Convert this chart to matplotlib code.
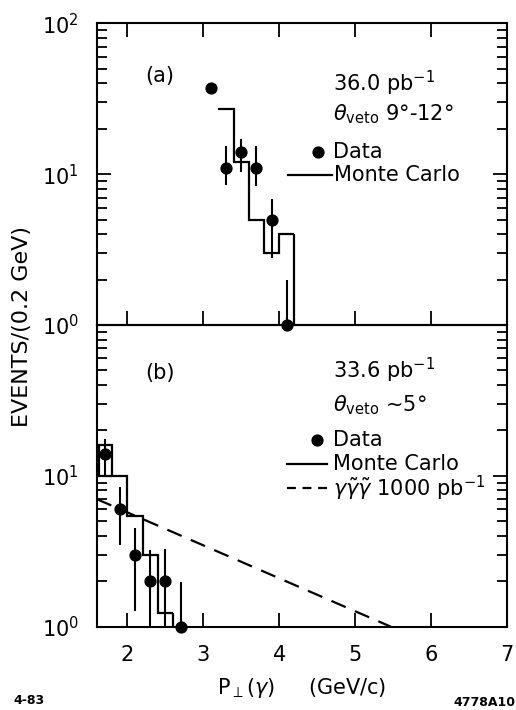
import matplotlib
matplotlib.use("Agg")
import matplotlib.pyplot as plt
from matplotlib.ticker import LogLocator, NullFormatter

plt.rcParams["font.family"] = ["DejaVu Sans"]
plt.rcParams["mathtext.fontset"] = "dejavusans"

# (a) theta_veto 9-12 deg, 36.0 pb-1
a_pt = [3.1, 3.3, 3.5, 3.7, 3.9, 4.1]
a_n = [37, 11, 14, 11, 5, 1]
a_lo = [37, 8.5, 10.3, 8.4, 2.8, 1]
a_hi = [37, 15.4, 17.2, 15.4, 6.8, 2.0]
a_mc_edges = [3.2, 3.4, 3.6, 3.8, 4.0, 4.2]
a_mc = [27, 12, 5, 3, 4]

# (b) theta_veto ~5 deg, 33.6 pb-1
b_pt = [1.7, 1.9, 2.1, 2.3, 2.5, 2.7]
b_n = [14, 6, 3, 2, 2, 1]
b_lo = [10.2, 3.5, 1.28, 1, 1, 1]
b_hi = [17.6, 8.4, 4.5, 3.2, 3.26, 1.98]
b_mc_edges = [1.6, 1.8, 2.0, 2.2, 2.4, 2.6]
b_mc = [16, 10, 5.4, 3, 1.23]
b_mc_first_low = 10
# gamma gamma~ gamma~ expectation for 1000 pb-1
ggg_pt = [1.6, 5.47]
ggg_n = [7.0, 1.0]

x_ticks = [2, 3, 4, 5, 6, 7]

W, H = 516, 710
fig = plt.figure(figsize=(W / 100, H / 100), dpi=100)
left, right = 97, 507
ax_a = fig.add_axes([left / W, (H - 325) / H, (right - left) / W, 301.7 / H])
ax_b = fig.add_axes([left / W, (H - 626.7) / H, (right - left) / W, 301.7 / H])
ax_a.set_zorder(3)
ax_a.patch.set_alpha(0)

lw = 1.6
fs = 15

for ax in (ax_a, ax_b):
    ax.set_yscale("log")
    ax.set_xlim(1.6, 7.0)
    ax.set_ylim(1, 100)
    ax.set_xticks(x_ticks)
    ax.yaxis.set_minor_locator(LogLocator(base=10, subs=range(2, 10)))
    ax.yaxis.set_minor_formatter(NullFormatter())
    ax.tick_params(axis="both", which="major", direction="in", length=10,
                   width=1.3, labelsize=fs, pad=13)
    ax.tick_params(axis="y", which="minor", direction="in", length=7, width=1.3)
    ax.tick_params(axis="y", which="both", left=True, right=True)
    for s in ax.spines.values():
        s.set_linewidth(1.5)

ax_a.tick_params(axis="x", top=True, bottom=True, labelbottom=False)
ax_a.set_yticks([1, 10, 100], labels=["$10^0$", "$10^1$", "$10^2$"])
ax_b.tick_params(axis="x", top=False, bottom=True)
ax_b.set_yticks([1, 10, 100], labels=["$10^0$", "$10^1$", ""])

err = dict(fmt="o", color="black", ms=7.8, elinewidth=1.5, capsize=0,
           clip_on=False, zorder=5)

# panel (a)
ax_a.errorbar(a_pt, a_n,
              yerr=[[n - l for n, l in zip(a_n, a_lo)],
                    [h - n for n, h in zip(a_n, a_hi)]], **err)
ax_a.stairs(a_mc, a_mc_edges, baseline=None, color="black", lw=lw)
ax_a.vlines(a_mc_edges[-1], 1, a_mc[-1], color="black", lw=lw)

# panel (b)
ax_b.errorbar(b_pt, b_n,
              yerr=[[n - l for n, l in zip(b_n, b_lo)],
                    [h - n for n, h in zip(b_n, b_hi)]], **err)
ax_b.stairs(b_mc, b_mc_edges, baseline=None, color="black", lw=lw)
ax_b.vlines(b_mc_edges[-1], 1, b_mc[-1], color="black", lw=lw)
ax_b.vlines(b_mc_edges[0] + 0.02, b_mc_first_low, b_mc[0], color="black", lw=lw)
ax_b.hlines(b_mc_first_low, b_mc_edges[0], b_mc_edges[1], color="black", lw=lw)
ax_b.plot(ggg_pt, ggg_n, color="black", lw=lw, dashes=(7, 4.5))

# labels inside the panels
tx = (333 - left) / (right - left)
ax_a.text(0.154, 0.825, "(a)", transform=ax_a.transAxes, ha="center",
          va="center", fontsize=fs)
ax_a.text(tx, 0.80, "36.0 pb$^{-1}$", transform=ax_a.transAxes,
          va="center", fontsize=fs)
ax_a.text(tx, 0.70, r"$\theta_{\rm veto}$ 9°-12°", transform=ax_a.transAxes,
          va="center", fontsize=fs)
ax_a.plot([0.540], [0.573], "o", color="black", ms=7.8,
          transform=ax_a.transAxes)
ax_a.text(tx, 0.573, "Data", transform=ax_a.transAxes, va="center",
          fontsize=fs)
ax_a.plot([0.466, 0.573], [0.497, 0.497], color="black", lw=lw,
          transform=ax_a.transAxes)
ax_a.text(tx + 0.003, 0.497, "Monte Carlo", transform=ax_a.transAxes,
          va="center", fontsize=fs)

ax_b.text(0.154, 0.841, "(b)", transform=ax_b.transAxes, ha="center",
          va="center", fontsize=fs)
ax_b.text(tx, 0.851, "33.6 pb$^{-1}$", transform=ax_b.transAxes,
          va="center", fontsize=fs)
ax_b.text(tx, 0.734, r"$\theta_{\rm veto}$ ~5°", transform=ax_b.transAxes,
          va="center", fontsize=fs)
ax_b.plot([0.537], [0.618], "o", color="black", ms=7.8,
          transform=ax_b.transAxes)
ax_b.text(tx, 0.618, "Data", transform=ax_b.transAxes, va="center",
          fontsize=fs)
ax_b.plot([0.463, 0.56], [0.539, 0.539], color="black", lw=lw,
          transform=ax_b.transAxes)
ax_b.text(tx, 0.539, "Monte Carlo", transform=ax_b.transAxes,
          va="center", fontsize=fs)
ax_b.plot([0.463, 0.56], [0.46, 0.46], color="black", lw=lw,
          dashes=(4, 3), transform=ax_b.transAxes)
ax_b.text(tx, 0.46, r"$\gamma\tilde{\gamma}\tilde{\gamma}$ 1000 pb$^{-1}$",
          transform=ax_b.transAxes, va="center", fontsize=fs)

ax_b.set_xlabel(r"$\mathrm{P}_{\perp}(\gamma)$     (GeV/c)", fontsize=fs,
                labelpad=8)
fig.text(22 / W, (H - 326) / H, "EVENTS/(0.2 GeV)", rotation=90,
         ha="center", va="center", fontsize=16)
fig.text(13 / W, (H - 701) / H, "4-83", fontsize=9, va="center",
         fontweight="bold")
fig.text(515 / W, (H - 702) / H, "4778A10", fontsize=9, va="center",
         ha="right", fontweight="bold")

fig.savefig("out.png", dpi=100)
